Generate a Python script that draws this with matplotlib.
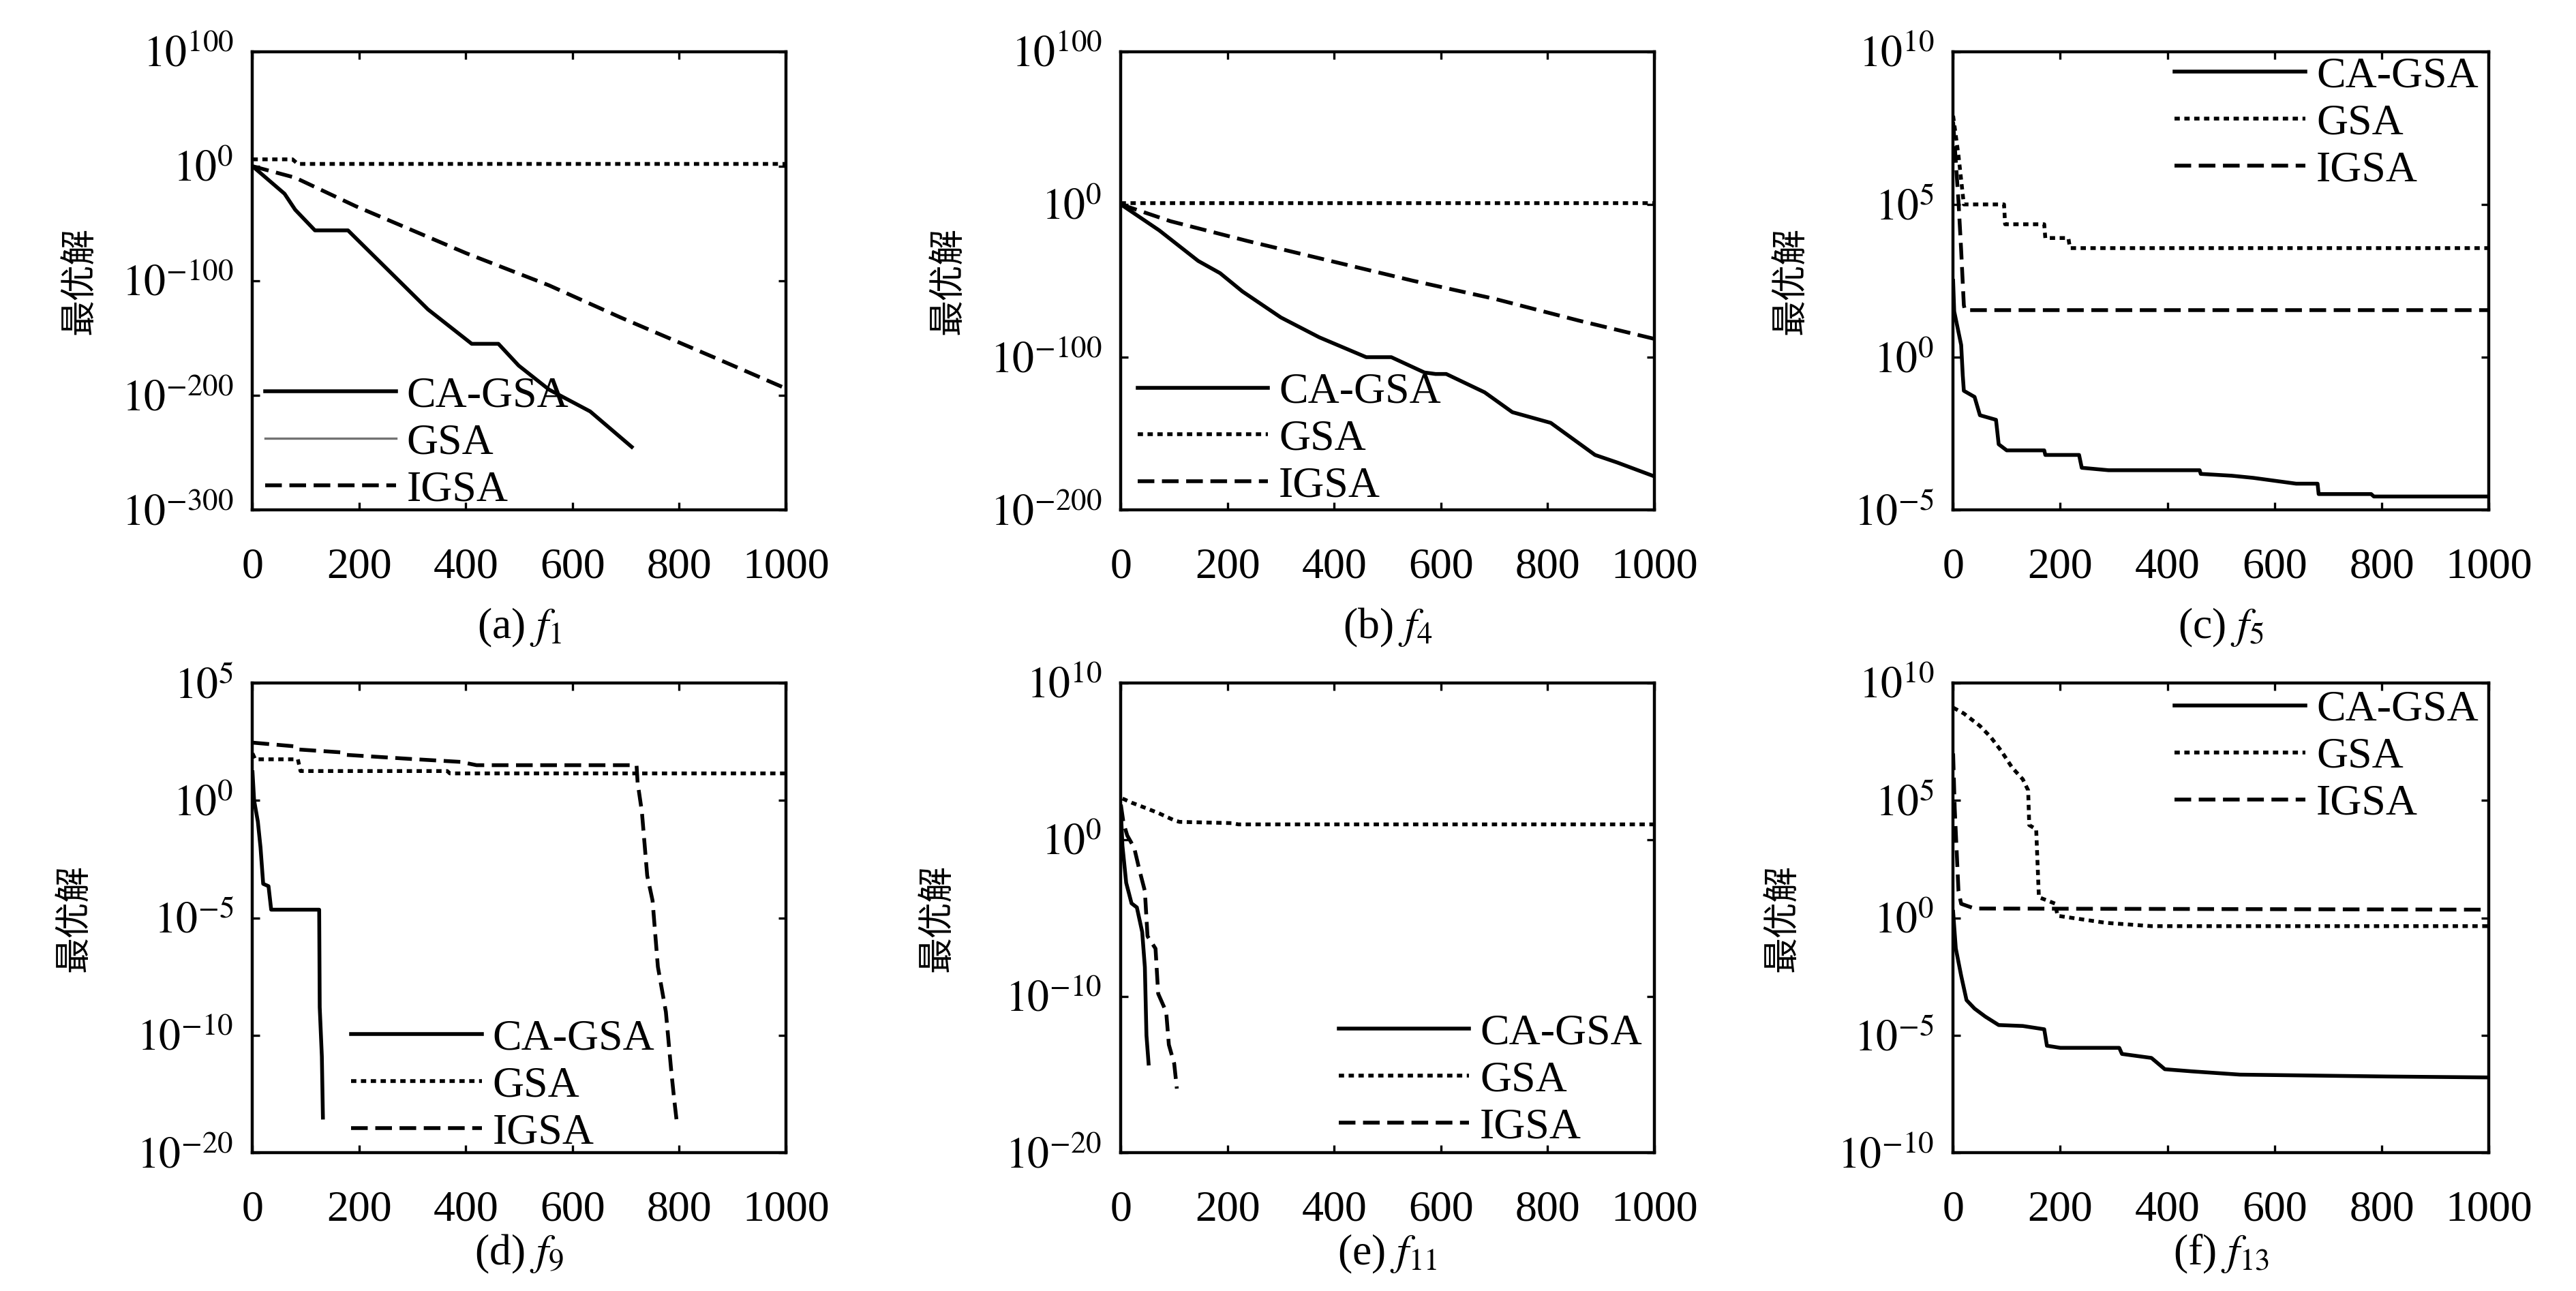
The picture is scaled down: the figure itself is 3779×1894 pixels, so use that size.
import numpy as np
import matplotlib
matplotlib.use("Agg")
import matplotlib.pyplot as plt
from matplotlib.lines import Line2D
from matplotlib.ticker import FixedLocator, FixedFormatter, NullLocator

plt.rcParams['font.family'] = ['Liberation Serif', 'DejaVu Serif']
plt.rcParams['mathtext.fontset'] = 'stix'
plt.rcParams['axes.linewidth'] = 1.6

# values are read as log10 of the best solution
# (a) f1
a_ca_x = [0, 60, 80, 117, 179, 329, 411, 461, 499, 556, 633, 711]
a_ca_y = [0, -24, -38, -56, -56, -125, -155, -155, -174, -195, -214, -245]
a_gsa_x = [0, 75, 85, 1000]
a_gsa_y = [6, 6, 2, 2]
a_igsa_x = [0, 80, 194, 401, 556, 690, 866, 1000]
a_igsa_y = [0, -10, -35, -76, -104, -132, -167, -194]

# (b) f4
b_ca_x = [0, 72, 145, 186, 228, 300, 372, 460, 507, 569, 590, 610, 682, 734, 806, 889, 931, 1000]
b_ca_y = [0, -17, -37, -45, -57, -74, -87, -100, -100, -110, -111, -111, -123, -136, -143, -164, -169, -178]
b_gsa_x = [0, 1000]
b_gsa_y = [1, 1]
b_igsa_x = [0, 93, 238, 393, 548, 703, 858, 1000]
b_igsa_y = [0, -11, -24, -37, -50, -62, -76, -88]

# (c) f5
c_ca_x = [0, 2, 15, 18, 20, 40, 50, 80, 85, 100, 170, 172, 235, 240, 290, 460, 462, 520, 560, 640, 680, 682, 780, 785, 1000]
c_ca_y = [2.5, 1.5, 0.4, -0.6, -1.1, -1.3, -1.9, -2.05, -2.85, -3.05, -3.05, -3.2, -3.2, -3.62, -3.7, -3.7, -3.82, -3.88, -3.95, -4.14, -4.14, -4.48, -4.48, -4.56, -4.56]
c_gsa_x = [0, 10, 20, 95, 97, 170, 172, 215, 218, 1000]
c_gsa_y = [7.9, 6.6, 5.0, 5.0, 4.35, 4.35, 3.9, 3.9, 3.57, 3.57]
c_igsa_x = [0, 10, 15, 20, 22, 1000]
c_igsa_y = [7.7, 5.1, 3.5, 1.7, 1.54, 1.54]

# (d) f9
d_ca_x = [0, 3, 10, 15, 20, 30, 35, 125, 126, 130, 132]
d_ca_y = [1.2, 0.0, -0.9, -2.0, -3.55, -3.65, -4.65, -4.65, -8.8, -10.9, -13.5]
d_gsa_x = [0, 5, 85, 90, 365, 370, 1000]
d_gsa_y = [2.0, 1.75, 1.75, 1.25, 1.25, 1.15, 1.15]
d_igsa_x = [0, 80, 85, 170, 175, 300, 390, 420, 720, 722, 730, 740, 750, 760, 775, 785, 790, 795]
d_igsa_y = [2.46, 2.3, 2.17, 2.04, 1.94, 1.76, 1.64, 1.5, 1.5, 0.76, -0.48, -3.2, -4.26, -7.08, -9.0, -11.5, -12.6, -13.6]

# (e) f11
e_ca_x = [0, 3, 10, 15, 20, 30, 40, 45, 48, 52]
e_ca_y = [1.84, -0.4, -2.76, -3.41, -4.07, -4.33, -5.9, -8.14, -12.5, -14.3]
e_gsa_x = [3, 20, 50, 70, 100, 110, 210, 220, 1000]
e_gsa_y = [2.62, 2.36, 1.97, 1.7, 1.23, 1.13, 1.05, 0.97, 0.97]
e_igsa_x = [0, 5, 12, 25, 35, 45, 50, 65, 70, 85, 90, 100, 105]
e_igsa_y = [2.23, 1.05, 0.26, -0.52, -1.97, -3.28, -6.17, -6.96, -9.84, -11.0, -13.1, -14.3, -15.9]

# (f) f13
f_ca_x = [0, 5, 15, 25, 40, 60, 85, 130, 170, 175, 200, 310, 315, 370, 395, 445, 535, 810, 1000]
f_ca_y = [0.26, -1.3, -2.46, -3.5, -3.86, -4.2, -4.56, -4.6, -4.74, -5.44, -5.53, -5.53, -5.79, -5.96, -6.44, -6.53, -6.67, -6.75, -6.79]
f_gsa_x = [0, 20, 50, 70, 90, 110, 130, 140, 142, 155, 160, 190, 195, 285, 370, 1000]
f_gsa_y = [8.95, 8.7, 8.17, 7.7, 7.1, 6.4, 5.9, 5.43, 3.95, 3.77, 0.88, 0.61, 0.09, -0.21, -0.35, -0.35]
f_igsa_x = [0, 3, 10, 15, 40, 1000]
f_igsa_y = [7.0, 4.65, 1.14, 0.6, 0.4, 0.35]

labels = ['CA-GSA', 'GSA', 'IGSA']
captions = ['(a)', '(b)', '(c)', '(d)', '(e)', '(f)']
funcs = ['1', '4', '5', '9', '11', '13']

y_ticks = [
    [1e100, 1e0, 1e-100, 1e-200, 1e-300],
    [1e100, 1e0, 1e-100, 1e-200],
    [1e10, 1e5, 1e0, 1e-5],
    [1e5, 1e0, 1e-5, 1e-10, 1e-15],
    [1e10, 1e0, 1e-10, 1e-20],
    [1e10, 1e5, 1e0, 1e-5, 1e-10],
]
y_tick_labels = [
    ['100', '0', '-100', '-200', '-300'],
    ['100', '0', '-100', '-200'],
    ['10', '5', '0', '-5'],
    ['5', '0', '-5', '-10', '-20'],
    ['10', '0', '-10', '-20'],
    ['10', '5', '0', '-5', '-10'],
]

series = [
    (a_ca_x, a_ca_y, a_gsa_x, a_gsa_y, a_igsa_x, a_igsa_y),
    (b_ca_x, b_ca_y, b_gsa_x, b_gsa_y, b_igsa_x, b_igsa_y),
    (c_ca_x, c_ca_y, c_gsa_x, c_gsa_y, c_igsa_x, c_igsa_y),
    (d_ca_x, d_ca_y, d_gsa_x, d_gsa_y, d_igsa_x, d_igsa_y),
    (e_ca_x, e_ca_y, e_gsa_x, e_gsa_y, e_igsa_x, e_igsa_y),
    (f_ca_x, f_ca_y, f_gsa_x, f_gsa_y, f_igsa_x, f_igsa_y),
]

positions = [
    [0.098, 0.605, 0.207, 0.355],
    [0.435, 0.605, 0.207, 0.355],
    [0.758, 0.605, 0.208, 0.355],
    [0.098, 0.107, 0.207, 0.364],
    [0.435, 0.107, 0.207, 0.364],
    [0.758, 0.107, 0.208, 0.364],
]
ylabel_x = [-0.29, -0.29, -0.27, -0.30, -0.31, -0.285]
caption_y = [-0.257, -0.257, -0.257, -0.215, -0.215, -0.215]
legend_loc = ['lower left', 'lower left', 'upper right', 'lower left', 'lower left', 'upper right']
legend_anchor = [(0.024, 0.0), (0.031, 0.008), (0.98, 0.99), (0.185, 0.0), (0.408, 0.012), (0.98, 0.985)]

FS = 23
LW = 2.0
fig = plt.figure(figsize=(18.9, 9.47), dpi=200)

for i in range(6):
    ax = fig.add_axes(positions[i])
    cx, cy, gx, gy, ix, iy = series[i]
    l1, = ax.plot(cx, np.power(10.0, cy), color='black', lw=LW, ls='-')
    l2, = ax.plot(gx, np.power(10.0, gy), color='black', lw=LW, ls=(0, (1.4, 1.2)))
    l3, = ax.plot(ix, np.power(10.0, iy), color='black', lw=LW, ls=(0, (4.4, 2.0)))

    ax.set_yscale('log')
    ax.set_xlim(0, 1000)
    ax.set_ylim(min(y_ticks[i]), max(y_ticks[i]))
    ax.set_xticks(range(0, 1001, 200))
    ax.yaxis.set_major_locator(FixedLocator(y_ticks[i]))
    ax.yaxis.set_major_formatter(FixedFormatter(
        [r'$10^{%s}$' % t.replace('-', '\u2212') for t in y_tick_labels[i]]))
    ax.yaxis.set_minor_locator(NullLocator())
    ax.tick_params(direction='in', top=True, right=True, length=4, width=1.2, labelsize=FS)
    ax.tick_params(axis='x', pad=20)
    ax.tick_params(axis='y', pad=10)

    ax.set_ylabel('最优解', family=['Noto Sans CJK SC'], fontsize=19)
    ax.yaxis.set_label_coords(ylabel_x[i], 0.5)

    ax.text(0.5, caption_y[i], captions[i] + r' $f_{%s}$' % funcs[i], transform=ax.transAxes,
            ha='center', va='center', fontsize=FS)

    handles = [l1, l2, l3]
    if i == 0:
        handles[1] = Line2D([], [], color='0.45', lw=1.2)
    ax.legend(handles, labels, loc=legend_loc[i], bbox_to_anchor=legend_anchor[i],
              frameon=False, fontsize=FS, handlelength=3.0, handletextpad=0.25,
              labelspacing=0.16, borderpad=0, borderaxespad=0)

fig.savefig('out.png', dpi=200)
